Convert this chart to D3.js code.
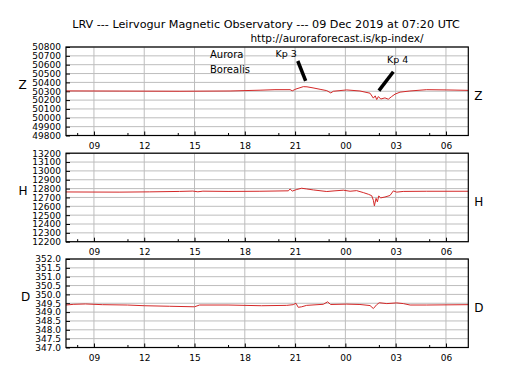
<!DOCTYPE html>
<html lang="en">
<head>
    <meta charset="UTF-8">
    <title>LRV magnetogram</title>
    <script src="https://d3js.org/d3.v7.min.js"></script>
    <style>
        body { margin: 0; background: #fff; }
        svg text { font-family: "DejaVu Sans", sans-serif; fill: #000; }
    </style>
</head>
<body>
    <div id="chart"></div>

    <script>

        // time in hours since 08 Dec 2019 00:00 UTC
        var timeRange = [7.333, 31.333];
        var majorHours = [9, 12, 15, 18, 21, 24, 27, 30];
        var minorHours = [8, 11, 14, 17, 20, 23, 26, 29];

        var zSeries = [
            [7.33, 50304], [10.55, 50302], [14.13, 50300], [17.12, 50303], [18.91, 50312],
            [19.80, 50318], [20.70, 50318], [20.83, 50305], [21.05, 50325], [21.49, 50352],
            [21.71, 50350], [22.07, 50338], [22.49, 50322], [22.89, 50307], [23.13, 50281],
            [23.28, 50300], [24.08, 50315], [24.87, 50303], [25.47, 50278], [25.67, 50222],
            [25.78, 50248], [25.87, 50206], [25.97, 50240], [26.11, 50212], [26.36, 50225],
            [26.56, 50210], [26.76, 50240], [26.96, 50267], [27.26, 50290], [27.85, 50303],
            [28.85, 50318], [30.04, 50315], [31.33, 50310]
        ];

        var hSeries = [
            [7.33, 12762], [10.5, 12760], [12.3, 12763], [14.1, 12768], [14.9, 12772],
            [15.2, 12764], [15.5, 12771], [17.0, 12768], [18.9, 12770], [20.6, 12775],
            [20.7, 12796], [20.83, 12772], [21.1, 12790], [21.39, 12804], [21.69, 12796],
            [22.09, 12785], [22.89, 12767], [23.38, 12775], [23.88, 12782], [24.28, 12770],
            [24.67, 12777], [25.07, 12755], [25.37, 12736], [25.57, 12720], [25.67, 12668],
            [25.73, 12605], [25.83, 12690], [25.91, 12650], [25.99, 12717], [26.11, 12695],
            [26.36, 12705], [26.66, 12722], [26.86, 12774], [27.06, 12760], [27.45, 12768],
            [28.85, 12770], [31.33, 12770]
        ];

        var dSeries = [
            [7.33, 349.40], [7.8, 349.44], [8.5, 349.46], [9.5, 349.42], [11.0, 349.40],
            [12.0, 349.36], [13.5, 349.33], [15.0, 349.30], [15.3, 349.40], [17.0, 349.40],
            [19.0, 349.36], [20.5, 349.38], [20.89, 349.42], [21.05, 349.50], [21.19, 349.27],
            [21.39, 349.30], [21.69, 349.38], [22.68, 349.44], [22.94, 349.58], [23.12, 349.43],
            [24.08, 349.45], [24.87, 349.43], [25.47, 349.37], [25.67, 349.20], [25.87, 349.42],
            [26.02, 349.53], [26.47, 349.48], [27.06, 349.52], [27.46, 349.48], [27.86, 349.40],
            [28.85, 349.40], [31.33, 349.42]
        ];

        var zTicks = d3.range(49800, 50801, 100);
        var hTicks = d3.range(12200, 13201, 100);
        var dTicks = d3.range(347, 352.01, 0.5);

        // annotations on the Z panel: [t, value]
        var kp3Line = [[21.16, 50642], [21.63, 50417]];
        var kp4Line = [[26.86, 50521], [26.0, 50307]];

        var width = 520, height = 390;
        var left = 66, right = 468.3, panelHeight = 88.5;

        var svg = d3.select("#chart").append("svg")
            .attr("width", width)
            .attr("height", height);

        var x = d3.scaleLinear().domain(timeRange).range([left, right]);

        var panels = [
            { name: "Z", data: zSeries, ticks: zTicks, fmt: d3.format("d"), top: 47, labelX: 22.5 },
            { name: "H", data: hSeries, ticks: hTicks, fmt: d3.format("d"), top: 153.2, labelX: 23 },
            { name: "D", data: dSeries, ticks: dTicks, fmt: d3.format(".1f"), top: 259, labelX: 25.5 }
        ];

        var yScales = {};

        panels.forEach(function(p) {
            var bottom = p.top + panelHeight;
            var y = d3.scaleLinear()
                .domain([p.ticks[0], p.ticks[p.ticks.length - 1]])
                .range([bottom, p.top]);
            yScales[p.name] = y;

            var g = svg.append("g");

            g.append("rect")
                .attr("x", left).attr("y", p.top)
                .attr("width", right - left).attr("height", panelHeight)
                .attr("fill", "#fff");

            // grid
            g.append("g")
                .selectAll("line.h")
                .data(p.ticks)
                .enter().append("line")
                    .attr("x1", left).attr("x2", right)
                    .attr("y1", function(d) { return y(d); })
                    .attr("y2", function(d) { return y(d); })
                    .attr("stroke", "#bdbdbd").attr("stroke-width", 1);

            g.append("g")
                .selectAll("line.v")
                .data(majorHours)
                .enter().append("line")
                    .attr("x1", function(d) { return x(d); })
                    .attr("x2", function(d) { return x(d); })
                    .attr("y1", p.top).attr("y2", bottom)
                    .attr("stroke", "#bdbdbd").attr("stroke-width", 1);

            // axes, ticks pointing inward
            var yAxis = g.append("g")
                .attr("transform", "translate(" + left + ",0)")
                .call(d3.axisLeft(y).tickValues(p.ticks).tickFormat(p.fmt).tickSizeInner(-4).tickSizeOuter(0).tickPadding(5));
            yAxis.select(".domain").remove();
            yAxis.selectAll("text").style("font-size", "9px").attr("font-family", null);
            yAxis.selectAll("line").attr("stroke", "#000");

            var xAxis = g.append("g")
                .attr("transform", "translate(0," + bottom + ")")
                .call(d3.axisBottom(x).tickValues(majorHours)
                    .tickFormat(function(d) { return d3.format("02d")(d % 24); })
                    .tickSizeInner(-4).tickSizeOuter(0).tickPadding(7));
            xAxis.select(".domain").remove();
            xAxis.selectAll("text").style("font-size", "9px").attr("font-family", null);
            xAxis.selectAll("line").attr("stroke", "#000");

            g.append("g")
                .attr("transform", "translate(0," + bottom + ")")
                .call(d3.axisBottom(x).tickValues(minorHours).tickFormat("").tickSizeInner(-2.5).tickSizeOuter(0))
                .select(".domain").remove();

            // series
            var line = d3.line()
                .x(function(d) { return x(d[0]); })
                .y(function(d) { return y(d[1]); });

            g.append("path")
                .datum(p.data)
                .attr("d", line)
                .attr("fill", "none")
                .attr("stroke", "#d42828")
                .attr("stroke-width", 1);

            // frame
            g.append("rect")
                .attr("x", left).attr("y", p.top)
                .attr("width", right - left).attr("height", panelHeight)
                .attr("fill", "none").attr("stroke", "#000").attr("stroke-width", 1.2);

            // panel labels: left one above centre, right one below
            g.append("text")
                .attr("x", p.labelX).attr("y", p.top + 41.5)
                .attr("text-anchor", "middle")
                .style("font-size", "12px")
                .text(p.name);
            g.append("text")
                .attr("x", right + 6).attr("y", p.top + 53)
                .style("font-size", "12px")
                .text(p.name);
        });

        // title
        svg.append("text")
            .attr("x", 266).attr("y", 27.5)
            .attr("text-anchor", "middle")
            .style("font-size", "11.2px")
            .text("LRV --- Leirvogur Magnetic Observatory --- 09 Dec 2019 at 07:20 UTC");

        svg.append("text")
            .attr("x", 337).attr("y", 41.5)
            .attr("text-anchor", "middle")
            .style("font-size", "10.5px")
            .text("http://auroraforecast.is/kp-index/");

        // annotations
        var yz = yScales["Z"];
        svg.append("text").attr("x", 210).attr("y", 57.5).style("font-size", "10px").text("Aurora");
        svg.append("text").attr("x", 210).attr("y", 72.5).style("font-size", "10px").text("Borealis");
        svg.append("text").attr("x", 275.5).attr("y", 56.5).style("font-size", "9.5px").text("Kp 3");
        svg.append("text").attr("x", 387).attr("y", 62.5).style("font-size", "9.5px").text("Kp 4");

        [kp3Line, kp4Line].forEach(function(seg) {
            svg.append("line")
                .attr("x1", x(seg[0][0])).attr("y1", yz(seg[0][1]))
                .attr("x2", x(seg[1][0])).attr("y2", yz(seg[1][1]))
                .attr("stroke", "#000")
                .attr("stroke-width", 3.5);
        });

    </script>
</body>
</html>
